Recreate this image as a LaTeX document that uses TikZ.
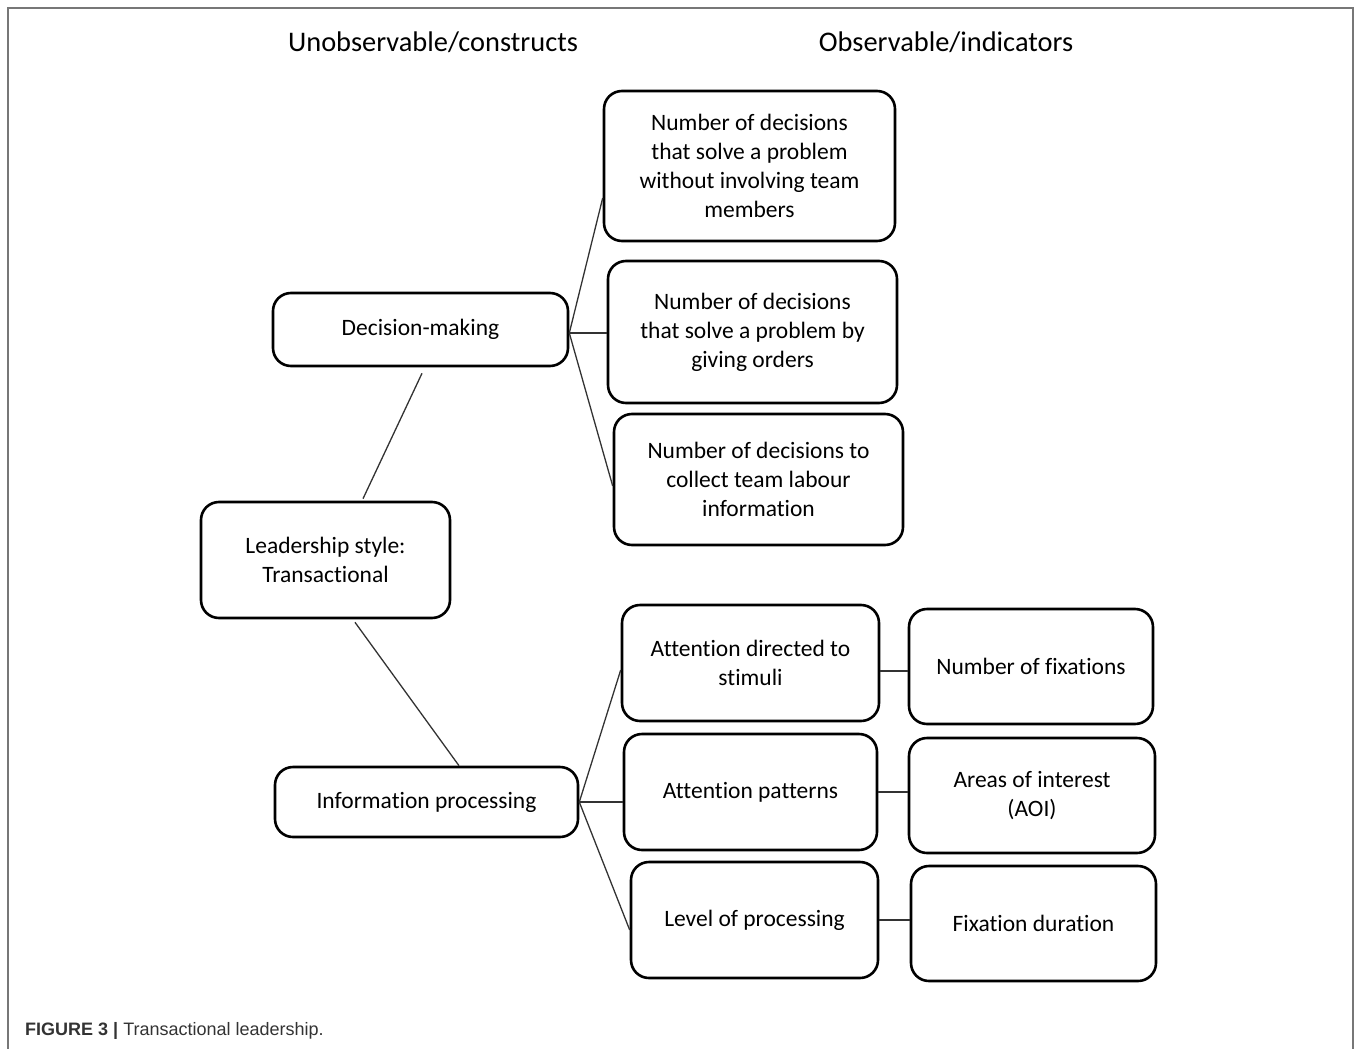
\documentclass[tikz,border=0pt]{standalone}
\usepackage{fontspec}
\setmainfont[Ligatures=NoCommon]{Carlito}
\newfontfamily\capfont{Liberation Sans}
\usetikzlibrary{calc}
\definecolor{framegray}{HTML}{777777}
\definecolor{capgray}{HTML}{333333}
\definecolor{linegray}{HTML}{333333}
\tikzset{
  boxnode/.style={draw=black, line width=2.6pt, rounded corners=18pt, align=center,
    inner sep=0pt, font=\fontsize{23.5}{29}\selectfont},
  conn/.style={draw=linegray, line width=1.3pt},
  header/.style={font=\fontsize{28.4}{32}\selectfont, inner sep=0pt}
}
\begin{document}
\begin{tikzpicture}[x=1pt,y=-1pt]
\useasboundingbox (0,0) rectangle (1357,1049);
\draw[framegray, line width=1.6pt] (8,1049) -- (8,8) -- (1353,8) -- (1353,1049);

\node[header] (h1) at (433,42) {Unobservable/constructs};
\node[header] (h2) at (946,42) {Observable/indicators};

\node[boxnode, minimum width=295pt, minimum height=73pt] (dec) at (420.5,329.5) {Decision-making};
\node[boxnode, minimum width=249pt, minimum height=116pt] (lead) at (325.5,560) {Leadership style:\\Transactional};
\node[boxnode, minimum width=303pt, minimum height=70pt] (info) at (426.5,802) {Information processing};

\node[boxnode, minimum width=291pt, minimum height=150pt] (a) at (749.5,166) {Number of decisions\\that solve a problem\\without involving team\\members};
\node[boxnode, minimum width=289pt, minimum height=142pt] (b) at (752.5,332) {Number of decisions\\that solve a problem by\\giving orders};
\node[boxnode, minimum width=289pt, minimum height=131pt] (c) at (758.5,479.5) {Number of decisions to\\collect team labour\\information};

\node[boxnode, minimum width=257pt, minimum height=116pt] (ad) at (750.5,663) {Attention directed to\\stimuli};
\node[boxnode, minimum width=253pt, minimum height=116pt] (ap) at (750.5,792) {Attention patterns};
\node[boxnode, minimum width=247pt, minimum height=116pt] (lp) at (754.5,920) {Level of processing};

\node[boxnode, minimum width=244pt, minimum height=115pt] (nf) at (1031,666.5) {Number of fixations};
\node[boxnode, minimum width=246pt, minimum height=115pt] (aoi) at (1032,795.5) {Areas of interest\\(AOI)};
\node[boxnode, minimum width=245pt, minimum height=115pt] (fd) at (1033.5,923.5) {Fixation duration};

% constructs
\draw[conn] ([xshift=37.5pt,yshift=2pt]lead.north) -- ([xshift=1.5pt,yshift=-6pt]dec.south);
\draw[conn] ([xshift=29.5pt,yshift=-3pt]lead.south) -- ([xshift=32.5pt]info.north);

% decision-making indicators
\draw[conn] ([yshift=-3.5pt]dec.east) -- ([yshift=-32pt]a.west);
\draw[conn] ([yshift=-3.5pt]dec.east) -- ([yshift=-1pt]b.west);
\draw[conn] ([yshift=-3.5pt]dec.east) -- ([yshift=-6.5pt]c.west);

% information processing indicators
\draw[conn] (info.east) -- ([yshift=-7pt]ad.west);
\draw[conn] (info.east) -- ([yshift=-10pt]ap.west);
\draw[conn] (info.east) -- ([yshift=-10pt]lp.west);

\draw[conn] ([yshift=-8pt]ad.east) -- ([yshift=-4.5pt]nf.west);
\draw[conn] (ap.east) -- (aoi.west |- ap.east);
\draw[conn] (lp.east) -- (fd.west |- lp.east);

\node[anchor=west, inner sep=0pt, text=capgray, font=\capfont\fontsize{18}{22}\selectfont] (cap) at (25,1031) {\textbf{FIGURE 3 |} Transactional leadership.};
\end{tikzpicture}
\end{document}
